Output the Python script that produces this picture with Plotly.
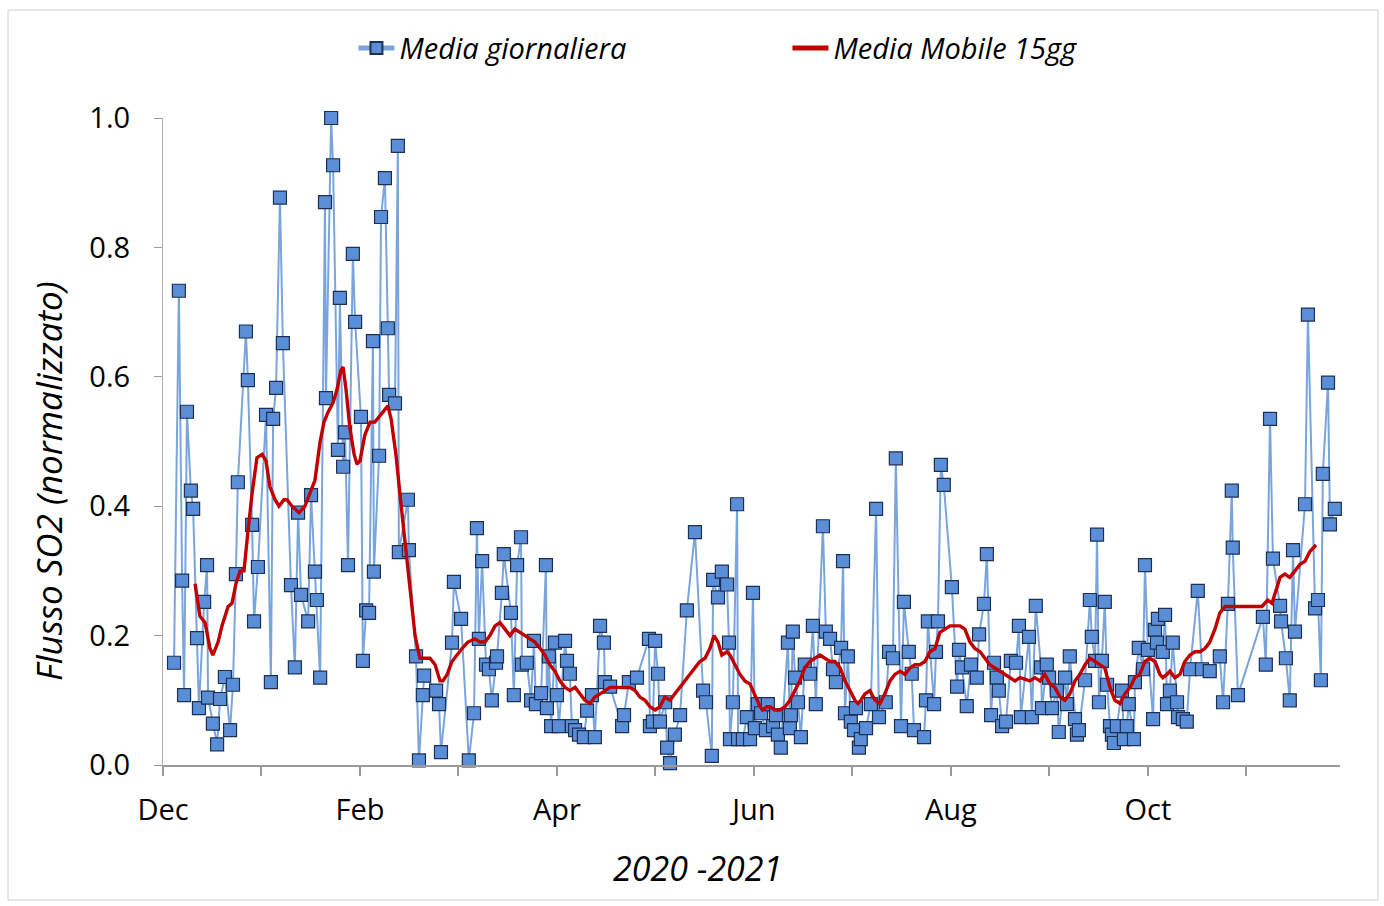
import pandas as pd
import plotly.graph_objects as go

# ---- data (day offset from 1 Dec 2020, normalized SO2 flux) ----
base_date = "2020-12-01"

daily_day = [3.4, 4.9, 5.9, 6.5, 7.4, 8.6, 9.3, 10.5, 11.1, 12.7, 13.6, 13.9, 15.4, 16.7, 17.6, 19.1,
             20.7, 21.6, 22.5, 23.1, 25.6, 26.2, 27.5, 28.1, 29.3, 31.8, 33.3, 34.0, 34.9, 36.1, 37.0,
             39.5, 40.7, 41.7, 42.6, 44.8, 45.7, 46.9, 47.5, 48.5, 50.0, 50.3, 51.9, 52.5, 54.0, 54.6,
             55.6, 56.2, 57.1, 58.6, 59.3, 61.1, 61.7, 62.7, 63.6, 64.8, 65.1, 66.7, 67.3, 68.5, 69.4,
             69.8, 71.6, 72.5, 72.8, 75.6, 75.9, 78.1, 79.0, 80.2, 80.6, 84.3, 85.2, 85.8, 89.2, 89.8,
             92.0, 94.4, 96.0, 96.9, 97.5, 98.5, 99.7, 100.6, 101.5, 102.8, 103.1, 104.6, 105.2, 107.4,
             108.3, 109.3, 110.5, 110.8, 112.3, 113.6, 114.5, 115.1, 116.7, 118.2, 118.5, 119.1, 119.8,
             121.0, 121.6, 122.2, 124.1, 124.7, 125.6, 126.2, 127.2, 128.4, 129.9, 130.9, 132.4, 133.3,
             134.9, 136.1, 136.4, 138.0, 141.7, 142.3, 143.8, 146.3, 150.0, 150.3, 151.2, 151.9, 152.8,
             153.4, 155.0, 155.6, 156.5, 158.0, 159.6, 161.7, 164.2, 166.7, 167.6, 169.4, 169.8, 171.3,
             172.5, 174.1, 174.7, 175.0, 175.9, 177.2, 177.5, 179.0, 180.2, 181.2, 182.1, 182.7, 183.6,
             184.6, 186.1, 186.7, 188.3, 189.2, 189.8, 190.7, 192.9, 193.5, 193.8, 194.4, 195.1, 196.0,
             196.9, 198.1, 199.7, 200.6, 201.5, 203.7, 204.6, 205.9, 206.8, 207.7, 209.3, 209.9, 210.5,
             211.4, 212.3, 213.3, 213.9, 214.8, 215.4, 217.0, 218.5, 220.1, 221.0, 223.1, 224.1, 225.3,
             226.2, 227.8, 228.7, 230.2, 231.1, 231.8, 234.9, 235.5, 236.1, 238.0, 238.6, 239.2, 240.1,
             241.0, 243.5, 245.1, 245.7, 246.6, 248.1, 249.4, 251.2, 251.9, 253.4, 254.3, 255.6, 256.5,
             257.4, 258.0, 259.0, 260.2, 261.7, 263.3, 264.2, 264.8, 267.3, 268.2, 269.4, 271.0, 271.3,
             272.8, 273.5, 274.4, 275.9, 276.5, 278.4, 279.0, 279.9, 281.5, 282.1, 282.7, 284.6, 286.1,
             286.7, 287.7, 288.3, 288.9, 289.8, 290.7, 291.4, 292.3, 292.9, 293.5, 294.4, 296.0, 296.6,
             297.5, 298.1, 299.7, 300.0, 301.2, 302.5, 303.1, 304.0, 305.6, 306.2, 306.8, 307.1, 308.6,
             309.3, 309.9, 310.8, 311.7, 313.0, 313.3, 314.8, 316.0, 317.0, 319.4, 320.7, 323.1, 326.2,
             327.2, 328.7, 329.9, 330.2, 331.8, 339.5, 340.4, 341.7, 342.6, 344.8, 345.1, 346.6, 347.8,
             348.8, 349.4, 352.5, 353.4, 355.6, 356.5, 357.4, 358.0, 359.6, 360.2, 361.7]

daily_val = [0.158, 0.733, 0.285, 0.108, 0.546, 0.424, 0.396, 0.196, 0.088, 0.252, 0.309, 0.104, 0.064,
             0.032, 0.102, 0.136, 0.054, 0.124, 0.295, 0.437, 0.670, 0.595, 0.371, 0.222, 0.306, 0.541,
             0.128, 0.535, 0.583, 0.877, 0.652, 0.278, 0.151, 0.390, 0.263, 0.222, 0.417, 0.299, 0.255,
             0.135, 0.870, 0.567, 1.000, 0.927, 0.487, 0.722, 0.461, 0.514, 0.309, 0.790, 0.685, 0.538,
             0.161, 0.239, 0.235, 0.655, 0.299, 0.478, 0.847, 0.907, 0.675, 0.572, 0.559, 0.957, 0.329,
             0.410, 0.332, 0.168, 0.007, 0.108, 0.138, 0.115, 0.094, 0.020, 0.189, 0.283, 0.226, 0.007,
             0.080, 0.366, 0.195, 0.315, 0.155, 0.148, 0.100, 0.158, 0.168, 0.266, 0.326, 0.235, 0.108,
             0.309, 0.352, 0.155, 0.158, 0.100, 0.192, 0.094, 0.111, 0.309, 0.088, 0.168, 0.060, 0.189,
             0.108, 0.060, 0.192, 0.161, 0.141, 0.060, 0.054, 0.047, 0.043, 0.084, 0.108, 0.043, 0.215,
             0.189, 0.128, 0.121, 0.060, 0.077, 0.128, 0.135, 0.195, 0.060, 0.067, 0.192, 0.141, 0.067,
             0.097, 0.027, 0.003, 0.047, 0.077, 0.239, 0.360, 0.115, 0.097, 0.014, 0.286, 0.259, 0.299,
             0.279, 0.189, 0.040, 0.097, 0.403, 0.040, 0.040, 0.074, 0.040, 0.266, 0.057, 0.094, 0.080,
             0.054, 0.094, 0.060, 0.077, 0.047, 0.027, 0.189, 0.057, 0.077, 0.206, 0.135, 0.097, 0.043,
             0.155, 0.141, 0.215, 0.094, 0.369, 0.206, 0.195, 0.148, 0.128, 0.181, 0.315, 0.080, 0.168,
             0.067, 0.054, 0.088, 0.027, 0.040, 0.057, 0.094, 0.396, 0.074, 0.097, 0.175, 0.165, 0.474,
             0.060, 0.252, 0.175, 0.141, 0.054, 0.043, 0.100, 0.222, 0.094, 0.175, 0.222, 0.464, 0.433,
             0.275, 0.121, 0.178, 0.151, 0.091, 0.155, 0.135, 0.202, 0.249, 0.326, 0.077, 0.158, 0.135,
             0.115, 0.060, 0.067, 0.161, 0.158, 0.215, 0.074, 0.198, 0.074, 0.246, 0.151, 0.088, 0.155,
             0.135, 0.088, 0.115, 0.051, 0.135, 0.094, 0.168, 0.071, 0.047, 0.054, 0.131, 0.255, 0.198,
             0.161, 0.356, 0.097, 0.161, 0.252, 0.124, 0.060, 0.047, 0.034, 0.060, 0.115, 0.040, 0.060,
             0.094, 0.040, 0.128, 0.181, 0.148, 0.309, 0.178, 0.071, 0.209, 0.189, 0.226, 0.175, 0.232,
             0.094, 0.115, 0.189, 0.097, 0.074, 0.071, 0.067, 0.148, 0.269, 0.148, 0.145, 0.168, 0.097,
             0.249, 0.424, 0.336, 0.108, 0.229, 0.155, 0.535, 0.319, 0.246, 0.222, 0.165, 0.100, 0.332,
             0.206, 0.403, 0.696, 0.242, 0.255, 0.131, 0.450, 0.591, 0.372, 0.396]

ma_day = [9.9, 11.4, 13.0, 14.5, 15.4, 17.0, 18.2, 20.1, 21.3, 22.5, 23.8, 25.0, 26.2, 27.5, 29.0, 30.6,
          31.8, 33.0, 34.6, 35.8, 37.3, 38.3, 39.8, 41.0, 42.0, 43.8, 45.4, 46.9, 48.5, 49.7, 50.9, 52.5,
          53.7, 54.9, 55.6, 56.5, 57.7, 59.0, 59.9, 60.8, 62.3, 63.9, 65.4, 67.0, 68.5, 69.4, 70.4, 71.9,
          73.1, 74.4, 75.6, 76.9, 77.8, 79.3, 80.9, 82.4, 84.0, 85.5, 86.4, 87.7, 89.2, 90.7, 92.3, 94.1,
          96.3, 97.8, 99.4, 100.9, 102.5, 104.0, 105.6, 107.1, 108.6, 110.2, 111.7, 113.3, 114.8, 116.4,
          117.9, 119.4, 121.0, 122.5, 124.1, 125.6, 127.2, 128.7, 130.2, 131.8, 133.3, 134.9, 136.4,
          138.0, 141.0, 144.1, 145.7, 147.2, 148.8, 150.3, 151.9, 153.4, 154.9, 156.5, 158.0, 159.6,
          161.1, 162.7, 164.2, 165.7, 167.3, 168.8, 170.1, 171.3, 172.5, 174.1, 175.0, 176.5, 178.1,
          179.6, 181.2, 182.1, 183.3, 184.3, 185.2, 186.4, 187.3, 188.9, 190.4, 192.0, 193.5, 195.1,
          196.6, 198.1, 199.7, 201.2, 202.8, 204.3, 205.9, 207.4, 209.0, 210.5, 212.0, 213.6, 214.5,
          215.4, 216.7, 218.2, 219.8, 221.3, 222.8, 224.4, 225.9, 227.5, 229.0, 230.6, 232.1, 233.6,
          235.2, 236.7, 238.3, 239.8, 241.4, 242.9, 246.0, 247.5, 249.1, 250.6, 252.2, 253.7, 255.2,
          256.8, 258.3, 259.9, 261.4, 263.0, 264.5, 267.6, 269.1, 270.7, 272.2, 273.8, 275.3, 276.9,
          278.4, 279.9, 281.5, 283.0, 284.6, 286.1, 287.7, 289.2, 290.7, 292.3, 293.8, 295.4, 296.9,
          298.5, 300.0, 301.5, 303.1, 304.6, 306.2, 307.7, 308.6, 309.9, 310.8, 312.3, 313.9, 315.4,
          317.0, 318.5, 320.1, 321.6, 323.1, 324.7, 326.2, 327.8, 339.2, 340.1, 341.0, 342.3, 343.5,
          344.8, 346.3, 347.8, 349.4, 350.9, 352.5, 354.0, 355.9]

ma_val = [0.28, 0.23, 0.22, 0.18, 0.17, 0.19, 0.215, 0.245, 0.25, 0.28, 0.30, 0.30, 0.36, 0.42, 0.475,
          0.48, 0.47, 0.43, 0.41, 0.40, 0.41, 0.41, 0.40, 0.395, 0.39, 0.40, 0.42, 0.44, 0.50, 0.53, 0.545,
          0.56, 0.58, 0.61, 0.615, 0.58, 0.52, 0.48, 0.465, 0.47, 0.51, 0.53, 0.53, 0.54, 0.55, 0.555,
          0.535, 0.48, 0.42, 0.36, 0.30, 0.24, 0.20, 0.165, 0.165, 0.165, 0.155, 0.13, 0.13, 0.14, 0.16,
          0.17, 0.18, 0.19, 0.195, 0.19, 0.19, 0.20, 0.215, 0.22, 0.21, 0.20, 0.21, 0.205, 0.20, 0.195,
          0.19, 0.18, 0.17, 0.155, 0.145, 0.13, 0.12, 0.115, 0.12, 0.11, 0.10, 0.095, 0.105, 0.11, 0.115,
          0.12, 0.12, 0.12, 0.115, 0.105, 0.10, 0.09, 0.085, 0.09, 0.105, 0.10, 0.11, 0.12, 0.13, 0.14,
          0.15, 0.16, 0.165, 0.18, 0.20, 0.19, 0.17, 0.175, 0.17, 0.155, 0.14, 0.13, 0.125, 0.115, 0.10,
          0.09, 0.085, 0.09, 0.09, 0.085, 0.085, 0.09, 0.10, 0.115, 0.13, 0.15, 0.16, 0.165, 0.17, 0.165,
          0.16, 0.16, 0.15, 0.13, 0.115, 0.10, 0.095, 0.10, 0.11, 0.115, 0.10, 0.095, 0.11, 0.13, 0.14,
          0.145, 0.14, 0.15, 0.155, 0.155, 0.16, 0.175, 0.18, 0.205, 0.21, 0.215, 0.215, 0.21, 0.19, 0.18,
          0.175, 0.165, 0.155, 0.15, 0.145, 0.14, 0.135, 0.13, 0.135, 0.13, 0.135, 0.13, 0.14, 0.125,
          0.12, 0.105, 0.10, 0.11, 0.13, 0.14, 0.155, 0.165, 0.16, 0.155, 0.15, 0.12, 0.10, 0.095, 0.11,
          0.12, 0.135, 0.14, 0.16, 0.165, 0.16, 0.14, 0.135, 0.14, 0.145, 0.135, 0.14, 0.16, 0.17, 0.175,
          0.175, 0.18, 0.19, 0.21, 0.235, 0.245, 0.245, 0.25, 0.255, 0.25, 0.27, 0.29, 0.295, 0.29, 0.30,
          0.31, 0.315, 0.33, 0.34]

tick_labels = ["Dec", "", "Feb", "", "Apr", "", "Jun", "", "Aug", "", "Oct", ""]
month_step_days = 30.4
axis_end_day = 363.3

series_names = ["Media giornaliera", "Media Mobile 15gg"]
x_title = "2020 -2021"
y_title = "Flusso SO2 (normalizzato)"

# ---- build ----
t0 = pd.Timestamp(base_date)
daily_x = t0 + pd.to_timedelta(daily_day, unit="D")
ma_x = t0 + pd.to_timedelta(ma_day, unit="D")
tickvals = [t0 + pd.to_timedelta(k * month_step_days, unit="D") for k in range(len(tick_labels))]
x_end = t0 + pd.to_timedelta(axis_end_day, unit="D")

FONT = "Open Sans"

fig = go.Figure()
fig.add_trace(go.Scatter(
    x=daily_x, y=daily_val, name=series_names[0], mode="lines+markers",
    line=dict(color="#7aa5dc", width=2),
    marker=dict(symbol="square", size=13, color="#5a8fd8",
                line=dict(color="#1c2f55", width=1.2)),
    cliponaxis=False,
))
fig.add_trace(go.Scatter(
    x=ma_x, y=ma_val, name=series_names[1], mode="lines",
    line=dict(color="#c00000", width=3.4),
    cliponaxis=False,
))

fig.update_layout(
    width=1384, height=906,
    margin=dict(l=163, r=44, t=118, b=141),
    paper_bgcolor="white", plot_bgcolor="white",
    font=dict(family=FONT, color="#000000", size=22),
    showlegend=True,
    legend=dict(orientation="h", x=0.1618, y=1.108, xanchor="left", yanchor="middle",
                font=dict(family=FONT, size=29, style="italic", color="#000"),
                entrywidth=383, entrywidthmode="pixels", itemwidth=36,
                bgcolor="rgba(0,0,0,0)", itemsizing="constant"),
    xaxis=dict(type="date", range=[t0, x_end],
               tickmode="array", tickvals=tickvals, ticktext=tick_labels,
               showgrid=False, zeroline=False, showline=True, linecolor="#9a9a9a", linewidth=1.5,
               ticks="outside", ticklen=9, tickcolor="#9a9a9a", tickwidth=1.5,
               ticklabelstandoff=9,
               tickfont=dict(family=FONT, size=29, color="#000")),
    yaxis=dict(range=[0, 1.0], tickmode="array", tickvals=[0, 0.2, 0.4, 0.6, 0.8, 1.0],
               tickformat=".1f",
               showgrid=False, zeroline=False, showline=True, linecolor="#b0b0b0", linewidth=1.2,
               ticks="outside", ticklen=8, tickcolor="#9a9a9a", tickwidth=1.2,
               ticklabelstandoff=18,
               tickfont=dict(family=FONT, size=29, color="#000")),
    annotations=[
        dict(text=x_title, xref="paper", yref="paper", x=(697 - 163) / 1177, y=(765 - 868) / 647,
             showarrow=False, xanchor="center", yanchor="middle",
             font=dict(family=FONT, size=34, style="italic", color="#000")),
        dict(text=y_title, xref="paper", yref="paper", x=(48 - 163) / 1177, y=(765 - 481) / 647,
             showarrow=False, xanchor="center", yanchor="middle", textangle=-90,
             font=dict(family=FONT, size=35, style="italic", color="#000")),
    ],
    shapes=[dict(type="rect", xref="paper", yref="paper",
                 x0=(8 - 163) / 1177, x1=(1378 - 163) / 1177,
                 y0=(765 - 900) / 647, y1=(765 - 10) / 647,
                 line=dict(color="#d0d0d0", width=1), layer="below")],
)

fig.write_html("out.html")
